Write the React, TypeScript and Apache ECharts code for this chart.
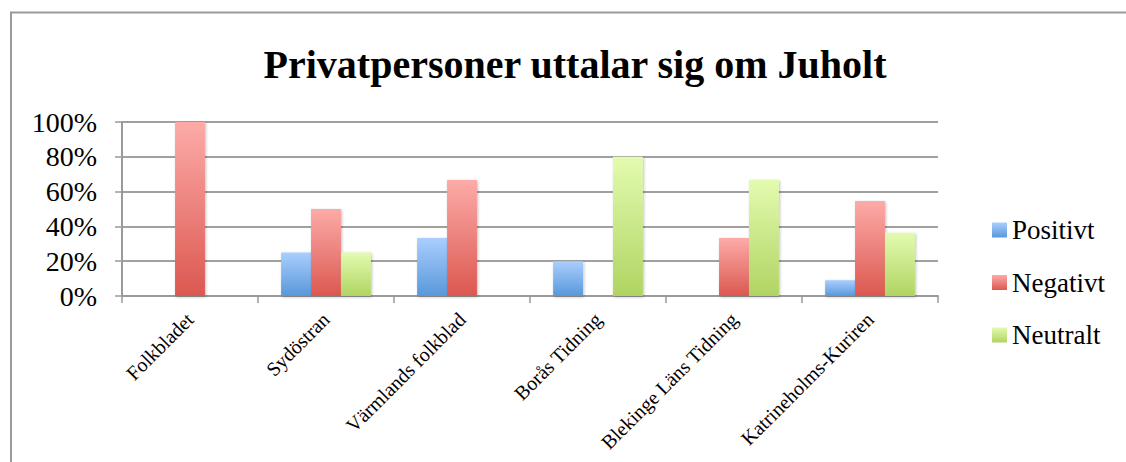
import React, { useEffect, useRef } from "react";
import * as echarts from "echarts";

const titleText = "Privatpersoner uttalar sig om Juholt";
const categories = [
  "Folkbladet",
  "Sydöstran",
  "Värmlands folkblad",
  "Borås Tidning",
  "Blekinge Läns Tidning",
  "Katrineholms-Kuriren",
];
const positivt = [0, 0.25, 0.3333, 0.2, 0, 0.0909];
const negativt = [1, 0.5, 0.6667, 0, 0.3333, 0.5455];
const neutralt = [0, 0.25, 0, 0.8, 0.6667, 0.3636];
const yTicks = [0, 0.2, 0.4, 0.6, 0.8, 1];

const FONT = "'Liberation Serif', 'Times New Roman', serif";

const grad = (top: string, bottom: string) =>
  new echarts.graphic.LinearGradient(0, 0, 0, 1, [
    { offset: 0, color: top },
    { offset: 1, color: bottom },
  ]);

export default function App() {
  const ref = useRef<HTMLDivElement>(null);
  useEffect(() => {
    if (!ref.current) return;
    document.documentElement.style.overflow = "hidden";
    document.body.style.overflow = "hidden";
    document.body.style.margin = "0";
    const chart = echarts.init(ref.current, null, { renderer: "svg" });
    const barStyle = (top: string, bottom: string) => ({
      color: grad(top, bottom),
      shadowBlur: 3,
      shadowColor: "rgba(0,0,0,0.25)",
      shadowOffsetX: 1,
      shadowOffsetY: 1,
    });
    chart.setOption({
      animation: false,
      backgroundColor: "#ffffff",
      graphic: [
        {
          type: "polyline",
          shape: { points: [[11, 462], [11, 12.5], [1126, 12.5]] },
          style: { fill: "none", stroke: "#9a9a9a", lineWidth: 2 },
          silent: true,
        },
        {
          type: "text",
          x: 575,
          y: 64,
          style: {
            text: titleText,
            font: `bold 40px ${FONT}`,
            fill: "#000",
            textAlign: "center",
            textVerticalAlign: "middle",
          },
        },
      ],
      legend: {
        orient: "vertical",
        left: 987,
        top: 210,
        itemWidth: 15,
        itemHeight: 15,
        itemGap: 22.5,
        icon: "rect",
        textStyle: { fontFamily: FONT, fontSize: 27, color: "#000", lineHeight: 30 },
        data: ["Positivt", "Negativt", "Neutralt"],
      },
      grid: { left: 122, top: 122, right: 188, bottom: 166, containLabel: false },
      xAxis: {
        type: "category",
        data: categories,
        boundaryGap: true,
        axisLine: { lineStyle: { color: "#9a9a9a", width: 2 } },
        axisTick: { show: true, length: 7, lineStyle: { color: "#9a9a9a", width: 1.5 } },
        axisLabel: {
          rotate: 45,
          interval: 0,
          margin: 20,
          fontFamily: FONT,
          fontSize: 20,
          color: "#000",
        },
      },
      yAxis: {
        type: "value",
        min: 0,
        max: 1,
        interval: 0.2,
        axisLine: { show: true, lineStyle: { color: "#9a9a9a", width: 2 } },
        axisTick: { show: true, length: 7, lineStyle: { color: "#9a9a9a", width: 1.5 } },
        splitLine: { lineStyle: { color: "#a0a0a0", width: 2 } },
        axisLabel: {
          margin: 25,
          fontFamily: FONT,
          fontSize: 28,
          color: "#000",
          formatter: (v: number) =>
            yTicks.some((t) => Math.abs(t - v) < 1e-6) ? `${Math.round(v * 100)}%` : "",
        },
      },
      series: [
        {
          name: "Positivt",
          type: "bar",
          data: positivt,
          barGap: "0%",
          barCategoryGap: "34%",
          itemStyle: barStyle("#aacefe", "#5898da"),
        },
        {
          name: "Negativt",
          type: "bar",
          data: negativt,
          barGap: "0%",
          barCategoryGap: "34%",
          itemStyle: barStyle("#fdaba8", "#db5850"),
        },
        {
          name: "Neutralt",
          type: "bar",
          data: neutralt,
          barGap: "0%",
          barCategoryGap: "34%",
          itemStyle: barStyle("#e3fbb0", "#b0d462"),
        },
      ],
    });
    return () => chart.dispose();
  }, []);
  return (
    <div
      ref={ref}
      style={{ position: "fixed", left: 0, top: 0, width: 1126, height: 462 }}
    />
  );
}
